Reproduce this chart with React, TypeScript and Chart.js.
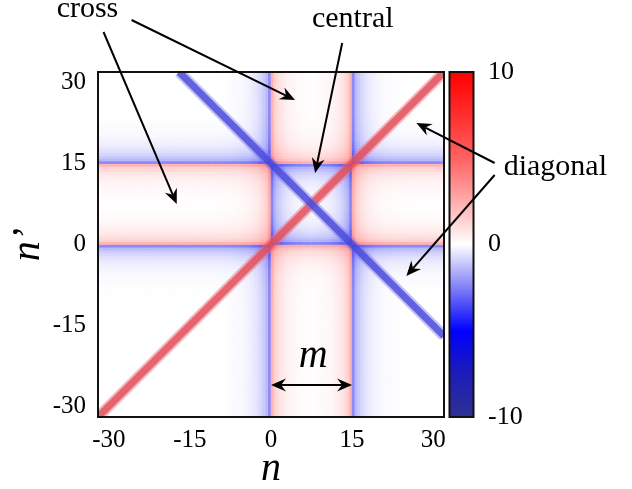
import React, { useEffect, useRef } from 'react';
import { Chart, registerables } from 'chart.js';

Chart.register(...registerables);

// ---------------- data ----------------
const nRange = [-32, 32];
const nTickValues = [-30, -15, 0, 15, 30];
const nPrimeTickValues = [-30, -15, 0, 15, 30];
const colorbarTickValues = [-10, 0, 10];
// cross / central bands: edges at n = 0 and n = m = 15
const bandEdges = [0, 15];
const cellStep = 0.5;
const edgeAmplitude = 2.3;
// decay of the band value with distance from an edge (sampled every 0.5)
const edgeProfile = [
  1.0, 0.6, 0.46, 0.36, 0.28, 0.22, 0.17, 0.135, 0.105, 0.082, 0.064, 0.05, 0.039,
  0.03, 0.023, 0.017, 0.012, 0.008, 0.005, 0.002, 0,
];
// diagonal ridges
const diagonalN = [-32, 32];
const diagonalNPrime = [-32, 32];
const antiDiagonalN = [-17, 32];
const antiDiagonalNPrime = [32, -17];
// colour map
const colormapValues = [-10, -7.5, -5, -2.5, 0, 2.5, 5, 7.5, 10];
const colormapColors = ['#2e3192', '#1c1cb8', '#0000ff', '#8080f8', '#ffffff', '#ffacac', '#ff6262', '#ff2e2e', '#ff0000'];

// annotations (in data coordinates)
const labelTexts = ['cross', 'central', 'diagonal'];
const labelPos = [[-33.95, 42.21], [15.12, 40.36], [52.59, 12.89]];
const arrowList = [
  [-25.79, 41.65, 4.45, 26.81],
  [-30.98, 39.42, -17.44, 7.51],
  [13.17, 37.38, 8.16, 13.26],
  [41.37, 15.12, 26.9, 22.54],
  [41.37, 12.89, 25.04, -5.84],
];
const mArrow = [0, 15, -26.06];
const mLabelPos = [7.79, -22.72];

const SERIF = '"Liberation Serif", "Times New Roman", serif';

// ---------------- helpers ----------------
function hexToRgb(h: string) {
  const v = parseInt(h.slice(1), 16);
  return [(v >> 16) & 255, (v >> 8) & 255, v & 255];
}
const colormapRgb = colormapColors.map(hexToRgb);

function valueToColor(v: number) {
  const vs = colormapValues;
  if (v <= vs[0]) return colormapColors[0];
  if (v >= vs[vs.length - 1]) return colormapColors[vs.length - 1];
  let i = 0;
  while (v > vs[i + 1]) i++;
  const t = (v - vs[i]) / (vs[i + 1] - vs[i]);
  const a = colormapRgb[i], b = colormapRgb[i + 1];
  const c = a.map((x, k) => Math.round(x + (b[k] - x) * t));
  return `rgb(${c[0]},${c[1]},${c[2]})`;
}

function side(x: number) {
  return x > bandEdges[0] && x < bandEdges[1] ? 1 : -1;
}
function profileAt(x: number) {
  const d = Math.min(Math.abs(x - bandEdges[0]), Math.abs(x - bandEdges[1]));
  const idx = Math.min(Math.floor(d / cellStep), edgeProfile.length - 1);
  return edgeProfile[idx];
}

function buildCells() {
  const centers: number[] = [];
  for (let v = nRange[0] + cellStep / 2; v < nRange[1]; v += cellStep) centers.push(v);
  const pts: { x: number; y: number }[] = [];
  const cols: string[] = [];
  for (const y of centers) {
    for (const x of centers) {
      const val = -side(x) * side(y) * edgeAmplitude * (profileAt(x) + profileAt(y));
      pts.push({ x, y });
      cols.push(valueToColor(val));
    }
  }
  return { pts, cols };
}

function drawHead(ctx: CanvasRenderingContext2D, x1: number, y1: number, x2: number, y2: number) {
  const ang = Math.atan2(y2 - y1, x2 - x1);
  const L = 15, W = 6.5, notch = 10;
  ctx.save();
  ctx.translate(x2, y2);
  ctx.rotate(ang);
  ctx.beginPath();
  ctx.moveTo(0, 0);
  ctx.lineTo(-L, -W);
  ctx.lineTo(-notch, 0);
  ctx.lineTo(-L, W);
  ctx.closePath();
  ctx.fill();
  ctx.restore();
}

function drawArrow(ctx: CanvasRenderingContext2D, x1: number, y1: number, x2: number, y2: number, both = false) {
  const len = Math.hypot(x2 - x1, y2 - y1);
  const ux = (x2 - x1) / len, uy = (y2 - y1) / len;
  const sx = both ? x1 + ux * 10 : x1, sy = both ? y1 + uy * 10 : y1;
  ctx.beginPath();
  ctx.moveTo(sx, sy);
  ctx.lineTo(x2 - ux * 10, y2 - uy * 10);
  ctx.stroke();
  drawHead(ctx, x1, y1, x2, y2);
  if (both) drawHead(ctx, x2, y2, x1, y1);
}

const decorPlugin = {
  id: 'decor',
  afterDatasetsDraw(chart: any) {
    const { ctx, chartArea: a, scales } = chart;
    ctx.save();
    // frame
    ctx.strokeStyle = '#111';
    ctx.lineWidth = 2;
    ctx.strokeRect(a.left, a.top, a.right - a.left, a.bottom - a.top);
    // colorbar
    const cb = scales.y2;
    const vmax = colormapValues[colormapValues.length - 1];
    const vmin = colormapValues[0];
    const top = cb.getPixelForValue(vmax);
    const bot = cb.getPixelForValue(vmin);
    const x0 = a.right + 5.5, w = 24;
    const g = ctx.createLinearGradient(0, top, 0, bot);
    colormapValues.forEach((v, i) => {
      g.addColorStop((vmax - v) / (vmax - vmin), colormapColors[i]);
    });
    ctx.fillStyle = g;
    ctx.fillRect(x0, top, w, bot - top);
    ctx.strokeRect(x0, top, w, bot - top);
    ctx.restore();
  },
  afterDraw(chart: any) {
    const { ctx, scales } = chart;
    const X = (v: number) => scales.x.getPixelForValue(v);
    const Y = (v: number) => scales.y.getPixelForValue(v);
    ctx.save();
    ctx.fillStyle = '#000';
    ctx.strokeStyle = '#000';
    ctx.lineWidth = 2;
    ctx.textAlign = 'center';
    ctx.textBaseline = 'alphabetic';
    ctx.font = `30px ${SERIF}`;
    labelTexts.forEach((t, i) => ctx.fillText(t, X(labelPos[i][0]), Y(labelPos[i][1])));
    arrowList.forEach((ar) => drawArrow(ctx, X(ar[0]), Y(ar[1]), X(ar[2]), Y(ar[3])));
    drawArrow(ctx, X(mArrow[0]), Y(mArrow[2]), X(mArrow[1]), Y(mArrow[2]), true);
    ctx.font = `italic 40px ${SERIF}`;
    ctx.fillText('m', X(mLabelPos[0]), Y(mLabelPos[1]));
    ctx.restore();
  },
};

export default function App() {
  const ref = useRef<HTMLCanvasElement | null>(null);
  useEffect(() => {
    if (!ref.current) return;
    const { pts, cols } = buildCells();
    const tickFont = { family: SERIF, size: 25 };
    const chart = new Chart(ref.current, {
      type: 'scatter',
      data: {
        datasets: [
          {
            label: 'anti-diagonal',
            data: antiDiagonalN.map((n, i) => ({ x: n, y: antiDiagonalNPrime[i] })),
            showLine: true,
            borderColor: 'rgba(70,70,215,0.78)',
            borderWidth: 7,
            pointRadius: 0,
            clip: 0,
            order: 0,
          } as any,
          {
            label: 'anti-diagonal glow',
            data: antiDiagonalN.map((n, i) => ({ x: n, y: antiDiagonalNPrime[i] })),
            showLine: true,
            borderColor: 'rgba(120,120,240,0.45)',
            borderWidth: 11,
            pointRadius: 0,
            clip: 0,
            order: 1,
          } as any,
          {
            label: 'diagonal',
            data: diagonalN.map((n, i) => ({ x: n, y: diagonalNPrime[i] })),
            showLine: true,
            borderColor: 'rgba(224,78,90,0.78)',
            borderWidth: 7,
            pointRadius: 0,
            clip: 0,
            order: 2,
          } as any,
          {
            label: 'diagonal glow',
            data: diagonalN.map((n, i) => ({ x: n, y: diagonalNPrime[i] })),
            showLine: true,
            borderColor: 'rgba(240,110,118,0.5)',
            borderWidth: 11,
            pointRadius: 0,
            clip: 0,
            order: 3,
          } as any,
          {
            label: 'field',
            data: pts,
            pointStyle: 'rect',
            pointRadius: 2.3,
            pointHoverRadius: 2.3,
            pointBorderWidth: 0,
            pointBackgroundColor: cols,
            clip: 0,
            order: 10,
          } as any,
        ],
      },
      options: {
        responsive: false,
        devicePixelRatio: 1,
        animation: false,
        events: [],
        layout: { padding: { top: 72, left: 0, right: 0, bottom: 0 } },
        plugins: { legend: { display: false }, tooltip: { enabled: false } },
        scales: {
          x: {
            type: 'linear',
            min: nRange[0],
            max: nRange[1],
            grid: { display: false },
            border: { display: false },
            afterBuildTicks: (s: any) => { s.ticks = nTickValues.map((v) => ({ value: v })); },
            afterFit: (s: any) => { s.height = 72; },
            ticks: { font: tickFont, color: '#000', padding: 0, maxRotation: 0, autoSkip: false },
            title: { display: true, text: 'n', color: '#000', padding: 0, font: { family: SERIF, size: 40, style: 'italic', lineHeight: 1 } },
          },
          y: {
            type: 'linear',
            min: nRange[0],
            max: nRange[1],
            grid: { display: false },
            border: { display: false },
            afterBuildTicks: (s: any) => { s.ticks = nPrimeTickValues.map((v) => ({ value: v })); },
            afterFit: (s: any) => { s.width = 98; },
            ticks: { font: tickFont, color: '#000', padding: 4, autoSkip: false },
            title: { display: true, text: 'n\u2019', color: '#000', padding: 8, font: { family: SERIF, size: 40, style: 'italic', lineHeight: 1 } },
          },
          y2: {
            type: 'linear',
            position: 'right',
            min: colormapValues[0],
            max: colormapValues[colormapValues.length - 1],
            grid: { display: false },
            border: { display: false },
            afterBuildTicks: (s: any) => { s.ticks = colorbarTickValues.map((v) => ({ value: v })); },
            afterFit: (s: any) => { s.width = 188; },
            ticks: { font: { family: SERIF, size: 26 }, color: '#000', padding: 36, autoSkip: false },
          },
        },
      } as any,
      plugins: [decorPlugin],
    });
    return () => chart.destroy();
  }, []);
  return (
    <div style={{ position: 'fixed', left: 0, top: 0, width: 632, height: 489, background: '#fff' }}>
      <canvas ref={ref} width={632} height={489} style={{ display: 'block' }} />
    </div>
  );
}
